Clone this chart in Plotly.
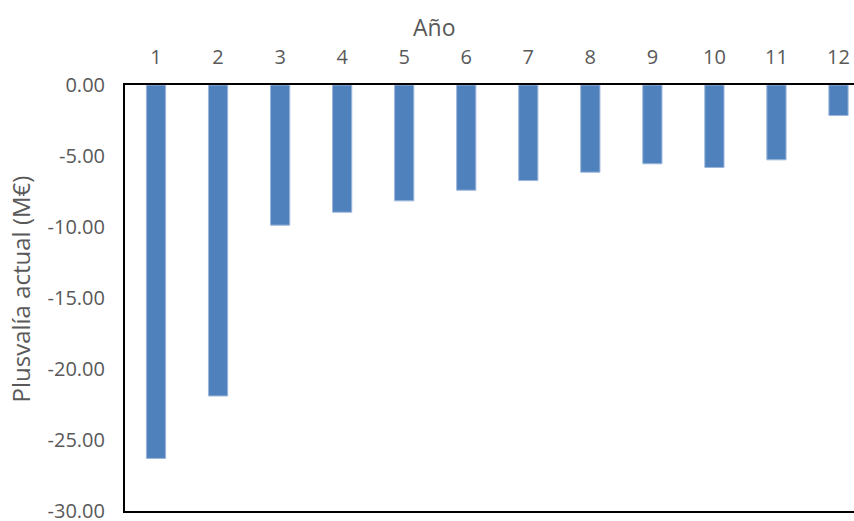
import plotly.graph_objects as go

years = [1, 2, 3, 4, 5, 6, 7, 8, 9, 10, 11, 12]
plusvalia = [-26.3, -21.9, -9.87, -8.96, -8.16, -7.41, -6.73, -6.14, -5.55, -5.81, -5.27, -2.15]
y_ticks = [0, -5, -10, -15, -20, -25, -30]
x_title = "Año"
y_title = "Plusvalía actual (M€)"

FONT = "Open Sans"
GREY = "#595959"

fig = go.Figure(go.Bar(
    x=years, y=plusvalia, width=0.31,
    marker=dict(color="#4F81BD", line=dict(color="#9DB7DB", width=1)),
))

fig.update_layout(
    width=854, height=521,
    margin=dict(l=125, r=0, t=85, b=10, autoexpand=False),
    paper_bgcolor="white", plot_bgcolor="white",
    showlegend=False,
    font=dict(family=FONT, color=GREY, size=20),
    annotations=[
        dict(text=x_title, xref="paper", yref="paper", x=0.424, y=1.137,
             xanchor="center", yanchor="middle", showarrow=False,
             font=dict(size=23, color=GREY, family=FONT)),
        dict(text=y_title, xref="paper", yref="paper", x=-0.144, y=0.52,
             xanchor="center", yanchor="middle", showarrow=False, textangle=-90,
             font=dict(size=24, color=GREY, family=FONT)),
    ],
)
fig.update_xaxes(
    side="top", range=[0.5, 12.25], tickvals=years, ticktext=[str(v) for v in years],
    showline=True, linecolor="black", linewidth=2, mirror=True,
    showgrid=False, zeroline=False, ticks="", ticklabelstandoff=11,
    ticklabeloverflow="allow", automargin=False,
    tickfont=dict(size=20, color=GREY),
)
fig.update_yaxes(
    range=[-30, 0], tickvals=y_ticks, ticktext=[f"{v:.2f}" for v in y_ticks],
    showline=True, linecolor="black", linewidth=2,
    showgrid=False, zeroline=False, ticks="", ticklabelstandoff=14,
    ticklabeloverflow="allow", automargin=False,
    tickfont=dict(size=20, color=GREY),
)

fig.write_html(
    "out.html",
    config={"displayModeBar": False},
    post_script="document.body.style.margin='0';document.body.style.overflow='hidden';",
)
